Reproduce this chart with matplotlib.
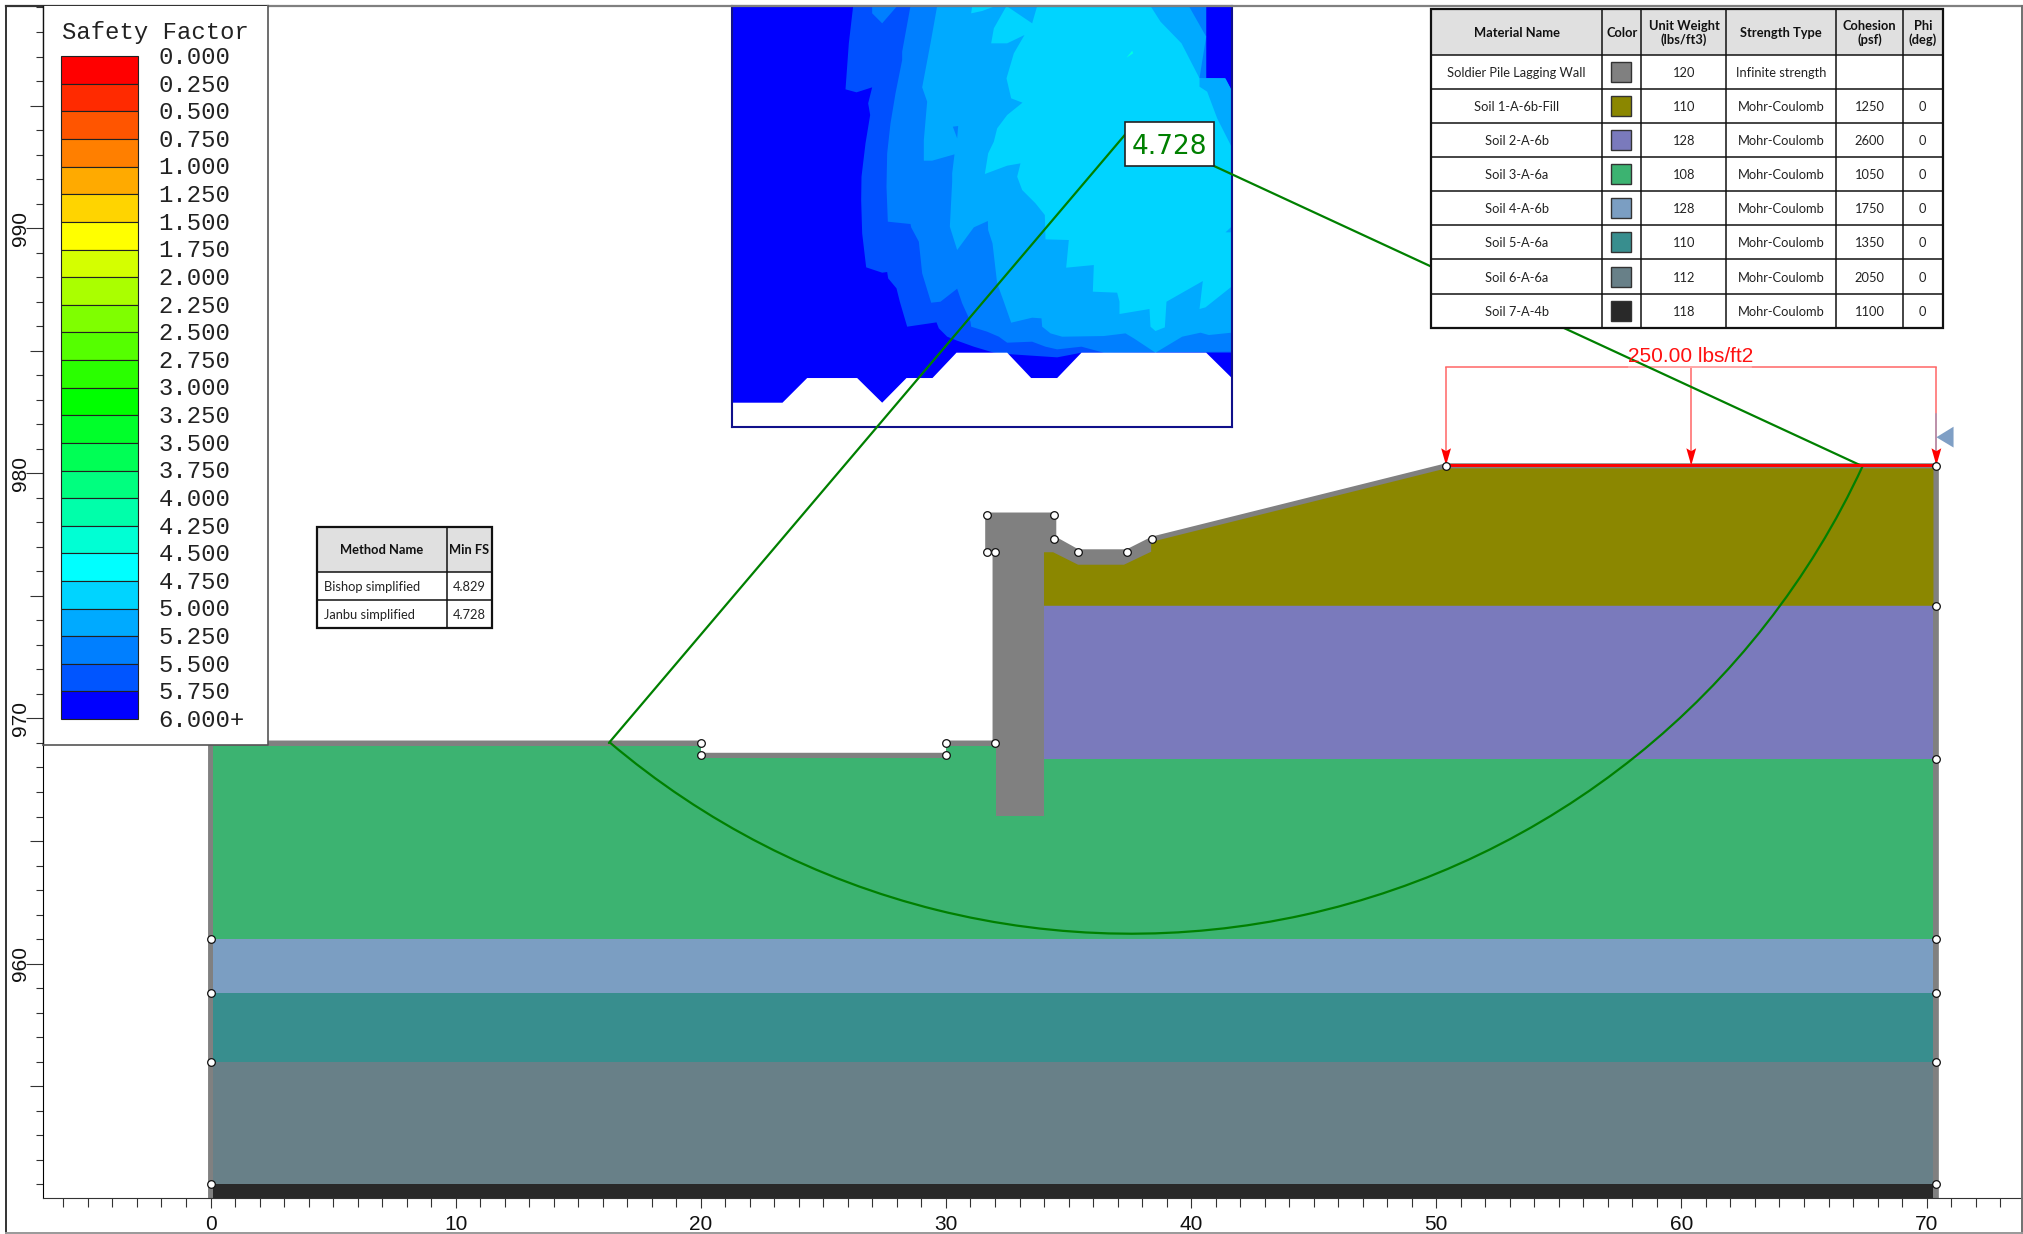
import matplotlib
matplotlib.use('Agg')
import matplotlib.pyplot as plt
from matplotlib.patches import Arc, Rectangle
import numpy as np

W = 2023
H = 1234

# ---- model geometry (metres on the section) ----
xmin, xmax = -6.845, 73.88
ymin, ymax = 950.44, 999.06
x_major = [0, 10, 20, 30, 40, 50, 60, 70]
y_major = [960, 970, 980, 990]

wall_color = '#808080'
boundary = [(-0.1, 950.44), (-0.1, 969.1), (20.0, 969.1), (20.0, 968.6), (30.0, 968.6), (30.0, 969.1),
            (31.9, 969.1), (31.9, 976.8), (31.6, 976.8), (31.6, 978.4), (34.5, 978.4), (34.5, 977.4),
            (35.4, 976.9), (37.37, 976.9), (38.4, 977.42), (50.4, 980.41), (70.5, 980.41), (70.5, 950.44)]
wall_low = [(32.03, 969.2), (34.0, 969.2), (34.0, 966.03), (32.03, 966.03)]

soil_names = ['Soil 1-A-6b-Fill', 'Soil 2-A-6b', 'Soil 3-A-6a', 'Soil 4-A-6b', 'Soil 5-A-6a', 'Soil 6-A-6a', 'Soil 7-A-4b']
soil_colors = ['#8b8700', '#7a7abc', '#3cb371', '#7b9ec2', '#388e8e', '#688088', '#292929']
soil1 = [(34.0, 974.6), (34.0, 976.78), (34.37, 976.78), (35.39, 976.27), (37.26, 976.27), (38.37, 976.8),
         (38.37, 977.2), (50.4, 980.2), (70.28, 980.2), (70.28, 974.6)]
soil2 = [(34.0, 968.36), (34.0, 974.6), (70.28, 974.6), (70.28, 968.36)]
soil3 = [(0.1, 961.0), (0.1, 968.88), (20.0, 968.88), (20.0, 968.38), (30.0, 968.38), (30.0, 968.88),
         (32.03, 968.88), (32.03, 966.03), (34.0, 966.03), (34.0, 968.36), (70.28, 968.36), (70.28, 961.0)]
soil4 = [(0.1, 958.8), (0.1, 961.0), (70.28, 961.0), (70.28, 958.8)]
soil5 = [(0.1, 956.0), (0.1, 958.8), (70.28, 958.8), (70.28, 956.0)]
soil6 = [(0.1, 951.0), (0.1, 956.0), (70.28, 956.0), (70.28, 951.0)]
soil7 = [(0.1, 950.44), (0.1, 951.0), (70.28, 951.0), (70.28, 950.44)]
soils = [soil1, soil2, soil3, soil4, soil5, soil6, soil7]

nodes_x = [0, 0, 0, 0, 20, 20, 30, 30, 32, 32, 31.69, 31.69, 34.4, 34.4, 35.4, 37.4, 38.4, 50.4,
           70.4, 70.4, 70.4, 70.4, 70.4, 70.4, 70.4]
nodes_y = [961, 958.8, 956, 951, 969, 968.5, 968.5, 969, 969, 976.8, 976.8, 978.3, 978.3, 977.3, 976.8,
           976.8, 977.3, 980.3, 980.3, 974.6, 968.36, 961, 958.8, 956, 951]

# slip circle
slip_center = (37.55, 994.1)
slip_radius = 32.88
slip_left = (16.25, 969.0)
slip_right = (67.36, 980.3)
slip_fs = '4.728'

# distributed load
load_x = [50.4, 60.4, 70.4]
load_top = 984.34
load_y = 980.3
load_text = '250.00 lbs/ft2'

# ---- legend ----
fs_labels = ['0.000', '0.250', '0.500', '0.750', '1.000', '1.250', '1.500', '1.750', '2.000', '2.250', '2.500',
             '2.750', '3.000', '3.250', '3.500', '3.750', '4.000', '4.250', '4.500', '4.750', '5.000', '5.250',
             '5.500', '5.750', '6.000+']
fs_colors = ['#ff0000', '#ff2a00', '#ff5500', '#ff7f00', '#ffaa00', '#ffd400', '#ffff00', '#d4ff00', '#aaff00',
             '#7fff00', '#55ff00', '#2aff00', '#00ff00', '#00ff2a', '#00ff55', '#00ff7f', '#00ffaa', '#00ffd4',
             '#00ffff', '#00d4ff', '#00aaff', '#007fff', '#0055ff', '#0000ff']

# ---- tables ----
method_names = ['Bishop simplified', 'Janbu simplified']
method_fs = ['4.829', '4.728']
mat_names = ['Soldier Pile Lagging Wall'] + soil_names
mat_colors = [wall_color] + soil_colors
mat_weight = ['120', '110', '128', '108', '128', '110', '112', '118']
mat_type = ['Infinite strength'] + ['Mohr-Coulomb'] * 7
mat_cohesion = ['', '1250', '2600', '1050', '1750', '1350', '2050', '1100']
mat_phi = ['', '0', '0', '0', '0', '0', '0', '0']

# ---- safety factor contours in grid units ----
grid_xlim = (33, 1533)
grid_ylim = (1280, 18)
fill_550 = [(398, 18), (385, 130), (375, 268), (408, 277), (455, 262), (443, 310), (449, 345), (435, 430), (423, 530),
            (422, 600), (425, 700), (437, 802), (485, 818), (500, 816), (503, 835), (528, 865), (538, 905), (560, 980),
            (648, 967), (655, 985), (680, 1010), (710, 1022), (760, 1040), (820, 1058), (860, 1062), (1010, 1072),
            (1083, 1058), (1533, 1058), (1533, 270), (1512, 234), (1457, 234), (1457, 18)]
fill_525 = [(570, 18), (555, 100), (545, 155), (545, 180), (525, 280), (510, 370), (500, 460), (498, 560), (502, 665),
            (570, 672), (572, 682), (595, 725), (605, 820), (632, 908), (660, 905), (710, 866), (725, 910), (750, 965),
            (752, 980), (800, 995), (835, 1010), (860, 1028), (935, 1025), (975, 1040), (1010, 1048), (1083, 1040),
            (1150, 1058), (1533, 1055), (1533, 270), (1512, 234), (1457, 234), (1457, 18)]
fill_525b = [(455, 18), (455, 40), (485, 70), (530, 18)]
fill_500 = [(650, 18), (630, 130), (605, 262), (620, 305), (610, 420), (610, 482), (635, 482), (702, 463), (695, 520),
            (695, 545), (688, 680), (710, 750), (760, 682), (802, 663), (803, 690), (816, 730), (830, 850), (850, 905),
            (872, 968), (935, 953), (963, 955), (965, 980), (990, 1000), (1025, 1010), (1150, 1008), (1215, 1000),
            (1240, 1015), (1305, 1058), (1385, 1010), (1440, 998), (1465, 1005), (1533, 998), (1533, 270), (1515, 235),
            (1437, 234), (1457, 110), (1405, 18)]
hole_525 = [(697, 380), (713, 378), (710, 415)]
fill_475 = [(950, 18), (935, 70), (858, 18), (820, 85), (812, 130), (860, 130), (912, 105), (880, 160), (858, 235),
            (872, 295), (906, 308), (860, 345), (830, 385), (820, 425), (803, 460), (793, 522), (860, 497), (900, 490),
            (890, 530), (905, 570), (945, 610), (973, 645), (975, 718), (1045, 720), (1037, 803), (1120, 795),
            (1117, 875), (1190, 878), (1197, 905), (1197, 942), (1287, 927), (1290, 980), (1305, 993), (1333, 982),
            (1338, 905), (1447, 843), (1437, 927), (1455, 922), (1533, 860), (1533, 440), (1490, 355), (1460, 275),
            (1437, 260), (1437, 235), (1383, 130), (1320, 65), (1290, 18)]
fill_475b = [(752, 40), (785, 33), (825, 18), (755, 18)]
hole_500 = [(1515, 697), (1533, 680), (1533, 697)]
spot_450 = [(1218, 173), (1235, 152), (1238, 160)]
not_analysed = [(37, 1280), (37, 1208), (186, 1208), (260, 1134), (410, 1134), (485, 1208), (558, 1134), (636, 1134),
                (708, 1058), (860, 1058), (932, 1134), (1010, 1134), (1083, 1058), (1457, 1058), (1533, 1133), (1533, 1280)]


def px_axes(fig, left, top, right, bottom, **kw):
    return fig.add_axes([left / W, 1 - bottom / H, (right - left) / W, (bottom - top) / H], **kw)


def fill_poly(ax, pts, color, **kw):
    xs = [p[0] for p in pts]
    ys = [p[1] for p in pts]
    ax.fill(xs, ys, color=color, lw=0, **kw)


def draw_table(ov, xs, ys, thick=1.6):
    ov.add_patch(Rectangle((xs[0], ys[0]), xs[-1] - xs[0], ys[1] - ys[0], fc='#e0e0e0', ec='none', zorder=5))
    ov.add_patch(Rectangle((xs[0], ys[1]), xs[-1] - xs[0], ys[-1] - ys[1], fc='white', ec='none', zorder=5))
    ov.hlines(ys, xs[0], xs[-1], color='#111111', lw=1.1, zorder=6)
    ov.vlines(xs, ys[0], ys[-1], color='#111111', lw=1.1, zorder=6)
    ov.add_patch(Rectangle((xs[0], ys[0]), xs[-1] - xs[0], ys[-1] - ys[0], fc='none', ec='#111111', lw=thick, zorder=7))


plt.rcParams['font.family'] = ['Liberation Sans', 'DejaVu Sans']
fig = plt.figure(figsize=(W / 100, H / 100), dpi=100, facecolor='white')

# contour grid sits under the model
ax_grid = px_axes(fig, 731.5, 6, 1231.5, 426.7, zorder=1)
ax_grid.set_xlim(*grid_xlim)
ax_grid.set_ylim(*grid_ylim)
ax_grid.set_xticks([])
ax_grid.set_yticks([])
ax_grid.set_facecolor('#0000ff')
for pts, col in [(fill_550, '#0050ff'), (fill_525, '#007fff'), (fill_525b, '#007fff'), (fill_500, '#00aaff'),
                 (hole_525, '#007fff'), (fill_475, '#00d4ff'), (fill_475b, '#00d4ff'), (hole_500, '#00aaff'),
                 (spot_450, '#00ffe0'), (not_analysed, 'white')]:
    fill_poly(ax_grid, pts, col)
for s in ax_grid.spines.values():
    s.set_color('#10108a')
    s.set_linewidth(1.5)

# main section
ax = px_axes(fig, 42.7, 6, 2021.7, 1198, zorder=2)
ax.patch.set_visible(False)
ax.set_xlim(xmin, xmax)
ax.set_ylim(ymin, ymax)
ax.spines['top'].set_visible(False)
ax.spines['right'].set_visible(False)
ax.spines['left'].set_linewidth(0.8)
ax.spines['bottom'].set_linewidth(0.8)
ax.spines['bottom'].set_color('#333333')
ax.set_xticks(x_major)
ax.set_yticks(y_major)
ax.set_xticks(np.arange(-6, 74), minor=True)
ax.set_yticks(np.arange(951, 1000), minor=True)
ax.tick_params(axis='x', which='major', length=7.5, width=0.8, labelsize=15, pad=5, color='#333333', labelcolor='#111111')
ax.tick_params(axis='x', which='minor', length=3.8, width=0.8, color='#333333')
ax.tick_params(axis='y', which='major', length=12, width=0.8, labelsize=15, pad=-3, color='#333333', labelcolor='#111111')
ax.tick_params(axis='y', which='minor', length=5, width=0.8, color='#333333')
for t in ax.get_yticklabels():
    t.set_rotation(90)
    t.set_va('center')
for t in ax.xaxis.get_minor_ticks():
    if t.get_loc() % 5 == 0:
        t.tick1line.set_markersize(6.5)
for t in ax.yaxis.get_minor_ticks():
    if t.get_loc() % 5 == 0:
        t.tick1line.set_markersize(9.5)

fill_poly(ax, boundary, wall_color, zorder=2)
fill_poly(ax, wall_low, wall_color, zorder=2)
for pts, col in zip(soils, soil_colors):
    fill_poly(ax, pts, col, zorder=3)
fill_poly(ax, wall_low, wall_color, zorder=3)

# slip surface
green = '#008000'
th1 = np.degrees(np.arctan2(slip_left[1] - slip_center[1], slip_left[0] - slip_center[0])) % 360
th2 = np.degrees(np.arctan2(slip_right[1] - slip_center[1], slip_right[0] - slip_center[0])) % 360
ax.add_patch(Arc(slip_center, 2 * slip_radius, 2 * slip_radius, theta1=th1, theta2=th2, color=green, lw=1.6, zorder=5))
ax.plot([slip_left[0], slip_center[0]], [slip_left[1], slip_center[1]], color=green, lw=1.6, zorder=5, solid_capstyle='round')
ax.plot([slip_right[0], slip_center[0]], [slip_right[1], slip_center[1]], color=green, lw=1.6, zorder=5, solid_capstyle='round')

# load
ax.plot([load_x[0], load_x[-1]], [load_top, load_top], color='#ff6666', lw=1.1, zorder=4)
ax.plot([57.85, 62.85], [load_top, load_top], color='#ffb0b0', lw=1.2, zorder=4.5)
ax.vlines(load_x, load_y, load_top, color='#ff6666', lw=1.1, zorder=4)
ax.plot([load_x[0], load_x[-1]], [load_y + 0.03, load_y + 0.03], color='#ff0000', lw=2.1, zorder=6)
for x in load_x:
    ax.fill([x, x - 0.2, x, x + 0.2], [load_y + 0.02, load_y + 0.72, load_y + 0.6, load_y + 0.72], color='#ff0000', lw=0, zorder=7)
ax.text(np.mean(load_x) - 0.02, 984.52, load_text, color='#ff1010', fontsize=15, ha='center', va='baseline', zorder=8)
# water table marker
ax.fill([70.4, 71.1, 71.1], [981.47, 981.9, 981.05], color='#7f9fc5', lw=0, zorder=7)
ax.plot([70.4, 70.4], [980.4, 982.4], color='#a995b5', lw=1.1, zorder=5)

ax.plot(nodes_x, nodes_y, ls='none', marker='o', ms=5.5, mfc='white', mec='#111111', mew=0.9, zorder=9, clip_on=False)

# overlay in pixels: frame, legend, tables, label
ov = fig.add_axes([0, 0, 1, 1], zorder=3)
ov.patch.set_visible(False)
ov.set_xlim(0, W)
ov.set_ylim(H, 0)
ov.axis('off')

ov.plot([6, 6], [6, 1233], color='#333333', lw=1.4)
ov.plot([6, 268], [6, 6], color='#333333', lw=1.6)
ov.plot([268, 2022], [6, 6], color='#808080', lw=1.6)
ov.plot([2022, 2022], [6, 1233], color='#707070', lw=1.4)
ov.plot([6, 2022], [1233, 1233], color='#999999', lw=1.4)

# legend box
ov.add_patch(Rectangle((42.7, 6), 225.6, 739, fc='white', ec='none', zorder=2))
ov.plot([42.7, 42.7], [6, 745], color='#111111', lw=1, zorder=3)
ov.plot([42.7, 268.3, 268.3], [745, 745, 6], color='#555555', lw=1.2, zorder=3)
ov.text(62, 32.5, 'Safety Factor', family='Liberation Mono', fontsize=17.2, color='#222222', ha='left', va='center', zorder=4)
top = 56.2
step = 27.62
for i, col in enumerate(fs_colors):
    ov.add_patch(Rectangle((61.2, top + i * step), 76.8, step, fc=col, ec='#222222', lw=0.8, zorder=3))
for i, lab in enumerate(fs_labels):
    ov.text(158.5, top + 1.3 + i * step, lab, family='Liberation Mono', fontsize=17.2, color='#222222', ha='left', va='center', zorder=4)

# slip factor label
ov.add_patch(Rectangle((1124.7, 121.7), 89.6, 44, fc='white', ec='#222222', lw=1.2, zorder=8))
ov.text(1169.5, 146.5, slip_fs, family='DejaVu Sans', fontsize=19, color=green, ha='center', va='center', zorder=9)

# method table
mx = [316.7, 446.7, 491.7]
my = [526.7, 571.7, 600, 628.3]
draw_table(ov, mx, my)
ov.text((mx[0] + mx[1]) / 2, (my[0] + my[1]) / 2 + 1, 'Method Name', family='Lato', fontsize=9.3, weight='bold', color='#111111', ha='center', va='center', zorder=8)
ov.text((mx[1] + mx[2]) / 2, (my[0] + my[1]) / 2 + 1, 'Min FS', family='Lato', fontsize=9.3, weight='bold', color='#111111', ha='center', va='center', zorder=8)
for i in range(2):
    cy = (my[i + 1] + my[i + 2]) / 2 + 1
    ov.text(mx[0] + 7, cy, method_names[i], family='Lato', fontsize=9.3, color='#222222', ha='left', va='center', zorder=8)
    ov.text((mx[1] + mx[2]) / 2, cy, method_fs[i], family='Lato', fontsize=9.3, color='#222222', ha='center', va='center', zorder=8)

# material table
tx = [1431, 1602.5, 1641.4, 1726.5, 1836, 1903, 1942.7]
ty = [9.3, 55, 89, 123, 157, 191.3, 225.3, 259.3, 293.7, 328]
draw_table(ov, tx, ty)
heads = ['Material Name', 'Color', 'Unit Weight\n(lbs/ft3)', 'Strength Type', 'Cohesion\n(psf)', 'Phi\n(deg)']
for j, h in enumerate(heads):
    ov.text((tx[j] + tx[j + 1]) / 2, (ty[0] + ty[1]) / 2 + 1, h, family='Lato', fontsize=9.3, weight='bold', color='#111111',
            ha='center', va='center', linespacing=1.15, zorder=8)
for i in range(len(mat_names)):
    cy = (ty[i + 1] + ty[i + 2]) / 2
    vals = [mat_names[i], None, mat_weight[i], mat_type[i], mat_cohesion[i], mat_phi[i]]
    for j, v in enumerate(vals):
        if v:
            ov.text((tx[j] + tx[j + 1]) / 2, cy + 1, v, family='Lato', fontsize=9.3, color='#222222', ha='center', va='center', zorder=8)
    ov.add_patch(Rectangle((1611.5, cy - 10), 20, 20, fc=mat_colors[i], ec='#333333', lw=1, zorder=8))

fig.savefig('out.png', dpi=100)
